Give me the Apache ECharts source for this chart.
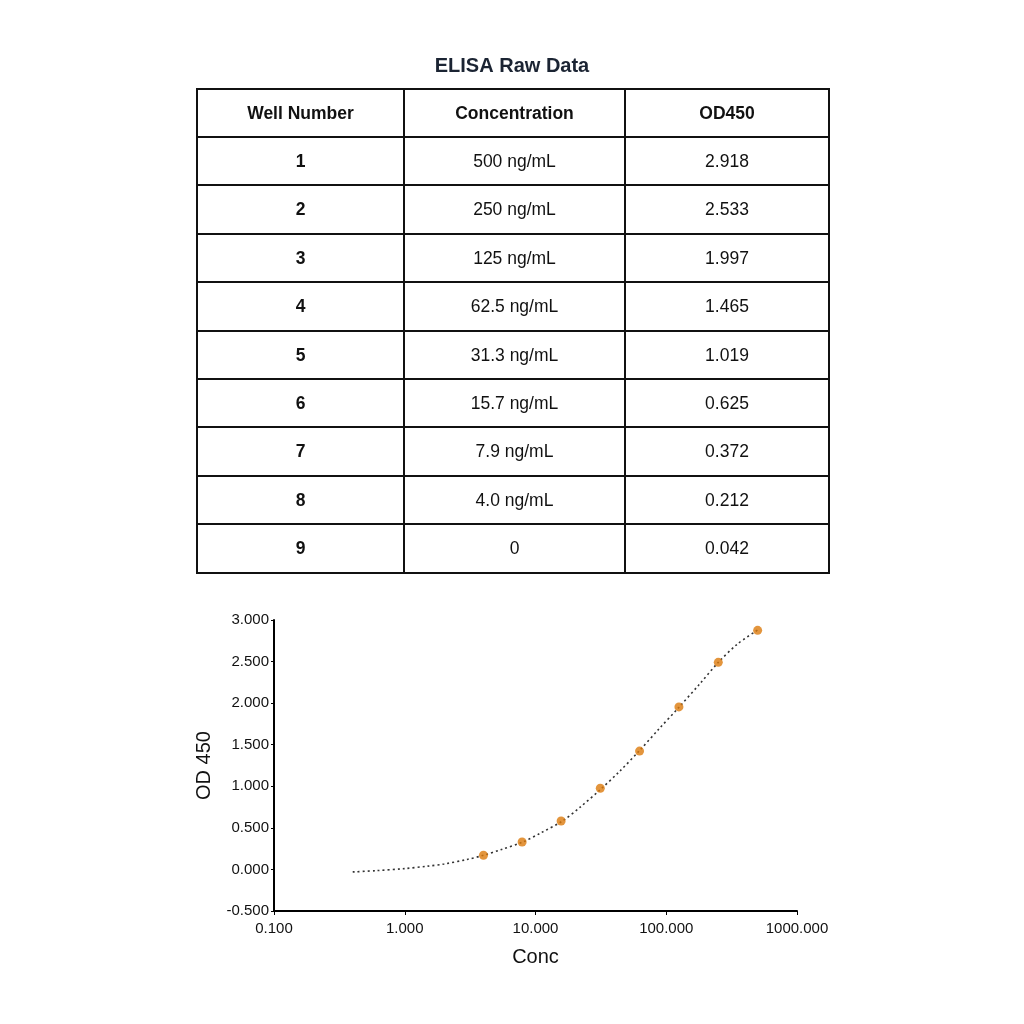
<!DOCTYPE html>
<html><head><meta charset="utf-8">
<script src="https://cdn.jsdelivr.net/npm/echarts@6/dist/echarts.min.js"></script>
<style>html,body{margin:0;padding:0;background:#fff}#c{width:1024px;height:1024px}</style>
</head><body><div id="c"></div>
<script>
const tableTitle = 'ELISA Raw Data';
const headers = ['Well Number', 'Concentration', 'OD450'];
const wells = ['1','2','3','4','5','6','7','8','9'];
const concLabels = ['500 ng/mL','250 ng/mL','125 ng/mL','62.5 ng/mL','31.3 ng/mL','15.7 ng/mL','7.9 ng/mL','4.0 ng/mL','0'];
const odLabels = ['2.918','2.533','1.997','1.465','1.019','0.625','0.372','0.212','0.042'];
const concValues = [500, 250, 125, 62.5, 31.3, 15.7, 7.9, 4.0];
const odValues = [2.918, 2.533, 1.997, 1.465, 1.019, 0.625, 0.372, 0.212];
const blankOD = 0.042;
// fitted curve
const fitConc = [0.4, 0.6, 1, 1.5, 2, 3, 4, 5.5, 8, 11, 16, 22, 31.3, 44, 62.5, 88, 125, 180, 250, 350, 500];
const fitOD =   [-0.03, -0.015, 0.01, 0.04, 0.065, 0.12, 0.17, 0.24, 0.33, 0.44, 0.58, 0.75, 0.96, 1.18, 1.43, 1.69, 1.95, 2.23, 2.49, 2.71, 2.88];

const FONT = 'Liberation Sans, Arial, sans-serif';
const tL = 197, tR = 829, colX = [197, 404, 625, 829];
const rowY = [89, 137, 185, 234, 282, 331, 379, 427, 476, 524, 573];

const g = [];
g.push({type:'text', left:'center', top:56, style:{text:tableTitle, font:'bold 20px '+FONT, fill:'#1b2433'}});
g.push({type:'rect', shape:{x:tL, y:rowY[0], width:tR-tL, height:rowY[rowY.length-1]-rowY[0]}, style:{fill:'none', stroke:'#111', lineWidth:2}});
for (let i = 1; i < rowY.length-1; i++) {
  g.push({type:'line', shape:{x1:tL, y1:rowY[i], x2:tR, y2:rowY[i]}, style:{stroke:'#111', lineWidth:2}});
}
for (let j = 1; j < colX.length-1; j++) {
  g.push({type:'line', shape:{x1:colX[j], y1:rowY[0], x2:colX[j], y2:rowY[rowY.length-1]}, style:{stroke:'#111', lineWidth:2}});
}
function cell(txt, col, row, bold) {
  g.push({type:'text', x:(colX[col]+colX[col+1])/2, y:(rowY[row]+rowY[row+1])/2 + 1,
    style:{text:txt, font:(bold?'bold ':'')+'17.5px '+FONT, fill:'#111', textAlign:'center', textVerticalAlign:'middle'}});
}
headers.forEach((h,j)=>cell(h,j,0,true));
wells.forEach((w,i)=>{ cell(w,0,i+1,true); cell(concLabels[i],1,i+1,false); cell(odLabels[i],2,i+1,false); });

const pts = concValues.map((c,i)=>[c, +(odValues[i]-blankOD).toFixed(3)]);
const fit = fitConc.map((c,i)=>[c, fitOD[i]]);

const chart = echarts.init(document.getElementById('c'));
chart.setOption({
  animation:false,
  graphic:g,
  grid:{left:274, right:227, top:620, bottom:113},
  xAxis:{type:'log', logBase:10, min:0.1, max:1000, name:'Conc', nameLocation:'middle', nameGap:36,
    nameTextStyle:{fontFamily:FONT, fontSize:20, color:'#111'},
    axisLine:{onZero:false, lineStyle:{color:'#000', width:2}},
    axisTick:{show:true, length:4, lineStyle:{color:'#000'}},
    axisLabel:{fontFamily:FONT, fontSize:15, color:'#111', margin:10, formatter:v=>Number(v).toFixed(3)},
    splitLine:{show:false}, minorTick:{show:false}},
  yAxis:{type:'value', min:-0.5, max:3, interval:0.5, name:'OD 450', nameLocation:'middle', nameGap:60,
    nameTextStyle:{fontFamily:FONT, fontSize:20, color:'#111'},
    axisLine:{show:true, onZero:false, lineStyle:{color:'#000', width:2}},
    axisTick:{show:true, length:3, lineStyle:{color:'#000'}},
    axisLabel:{fontFamily:FONT, fontSize:15, color:'#111', margin:5, formatter:v=>Number(v).toFixed(3)},
    splitLine:{show:false}},
  series:[
    {type:'line', data:fit, smooth:0.3, symbol:'none', lineStyle:{color:'#333', width:1.6, type:[2,3]}, z:2},
    {type:'scatter', data:pts, symbol:'circle', symbolSize:9, itemStyle:{color:'#dc7a0c'}, z:3}
  ]
});
</script></body></html>
